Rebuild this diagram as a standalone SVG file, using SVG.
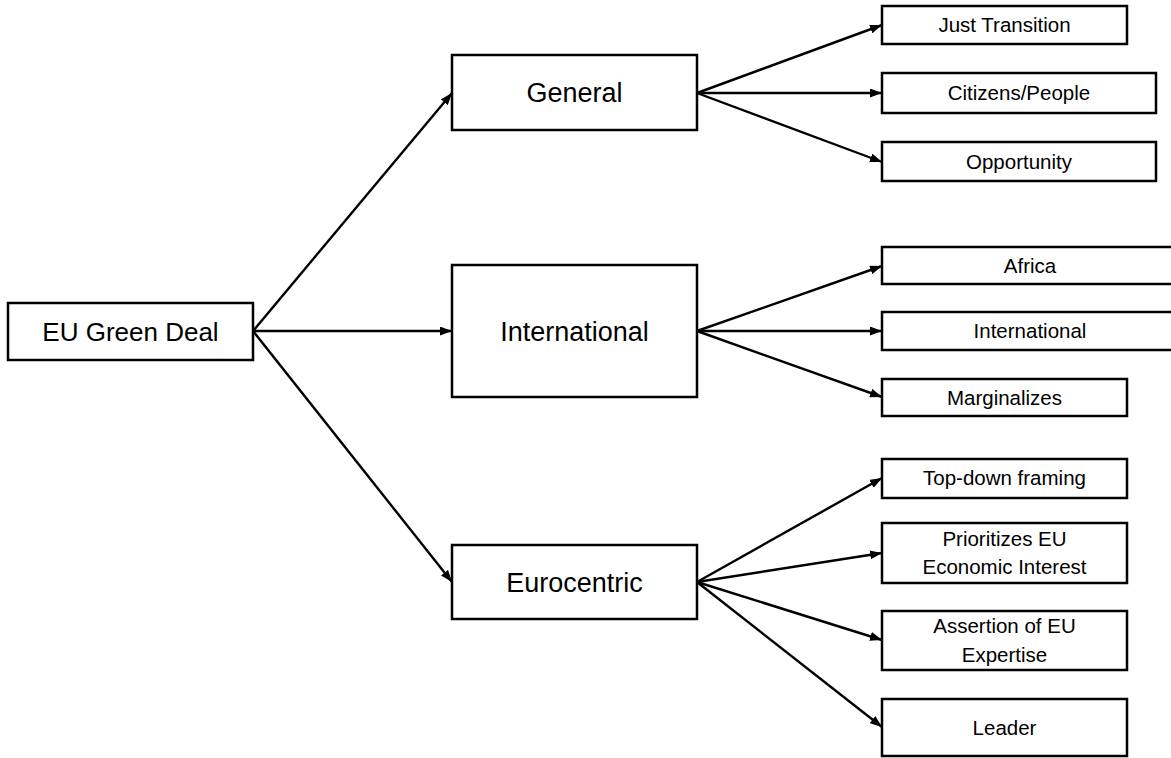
<svg xmlns="http://www.w3.org/2000/svg" width="1171" height="758" viewBox="0 0 1171 758">
<style>
rect.n{fill:#fff;stroke:#000;stroke-width:2.5}
text{font-family:"Liberation Sans",Arial,sans-serif;fill:#000;text-anchor:middle}
.big{font-size:26px}
.mid{font-size:27px}
.sm{font-size:20.5px}
#edges line{stroke:#000;stroke-width:2.4}
</style>
<defs>
<marker id="ah" markerUnits="userSpaceOnUse" viewBox="0 0 12 9" refX="12" refY="4.5" markerWidth="12" markerHeight="9" orient="auto">
<path d="M0,0 L12,4.5 L0,9 z" fill="#000"/>
</marker>
</defs>
<rect width="1171" height="758" fill="#fff"/>
<g id="edges">
<line x1="253" y1="331" x2="452" y2="93" marker-end="url(#ah)"/>
<line x1="253" y1="331" x2="452" y2="331" marker-end="url(#ah)"/>
<line x1="253" y1="331" x2="452" y2="582" marker-end="url(#ah)"/>
<line x1="697" y1="93" x2="882" y2="25" marker-end="url(#ah)"/>
<line x1="697" y1="93" x2="882" y2="93" marker-end="url(#ah)"/>
<line x1="697" y1="93" x2="882" y2="162" marker-end="url(#ah)"/>
<line x1="697" y1="331" x2="882" y2="266" marker-end="url(#ah)"/>
<line x1="697" y1="331" x2="882" y2="331" marker-end="url(#ah)"/>
<line x1="697" y1="331" x2="882" y2="397" marker-end="url(#ah)"/>
<line x1="697" y1="582" x2="882" y2="478" marker-end="url(#ah)"/>
<line x1="697" y1="582" x2="882" y2="553" marker-end="url(#ah)"/>
<line x1="697" y1="582" x2="882" y2="640" marker-end="url(#ah)"/>
<line x1="697" y1="582" x2="882" y2="727" marker-end="url(#ah)"/>
</g>
<g id="root"><rect class="n" x="8" y="303" width="245" height="57"/><text class="big" x="130.5" y="341">EU Green Deal</text></g>
<g id="general"><rect class="n" x="452" y="55" width="245" height="75"/><text class="mid" x="574.5" y="102">General</text></g>
<g id="international"><rect class="n" x="452" y="265" width="245" height="132"/><text class="mid" x="574.5" y="341">International</text></g>
<g id="eurocentric"><rect class="n" x="452" y="545" width="245" height="74"/><text class="mid" x="574.5" y="592">Eurocentric</text></g>
<g id="just"><rect class="n" x="882" y="6" width="245" height="38"/><text class="sm" x="1004.5" y="32">Just Transition</text></g>
<g id="citizens"><rect class="n" x="882" y="73" width="274" height="40"/><text class="sm" x="1019" y="100">Citizens/People</text></g>
<g id="opportunity"><rect class="n" x="882" y="142" width="274" height="39"/><text class="sm" x="1019" y="169">Opportunity</text></g>
<g id="africa"><rect class="n" x="882" y="247" width="296" height="37"/><text class="sm" x="1030" y="273">Africa</text></g>
<g id="international2"><rect class="n" x="882" y="312" width="296" height="38"/><text class="sm" x="1030" y="338">International</text></g>
<g id="marginalizes"><rect class="n" x="882" y="379" width="245" height="37"/><text class="sm" x="1004.5" y="405">Marginalizes</text></g>
<g id="topdown"><rect class="n" x="882" y="459" width="245" height="39"/><text class="sm" x="1004.5" y="485">Top-down framing</text></g>
<g id="prioritizes"><rect class="n" x="882" y="523" width="245" height="60"/><text class="sm" x="1004.5" y="546">Prioritizes EU</text><text class="sm" x="1004.5" y="574">Economic Interest</text></g>
<g id="assertion"><rect class="n" x="882" y="611" width="245" height="59"/><text class="sm" x="1004.5" y="633">Assertion of EU</text><text class="sm" x="1004.5" y="662">Expertise</text></g>
<g id="leader"><rect class="n" x="882" y="699" width="245" height="57"/><text class="sm" x="1004.5" y="735">Leader</text></g>
</svg>
